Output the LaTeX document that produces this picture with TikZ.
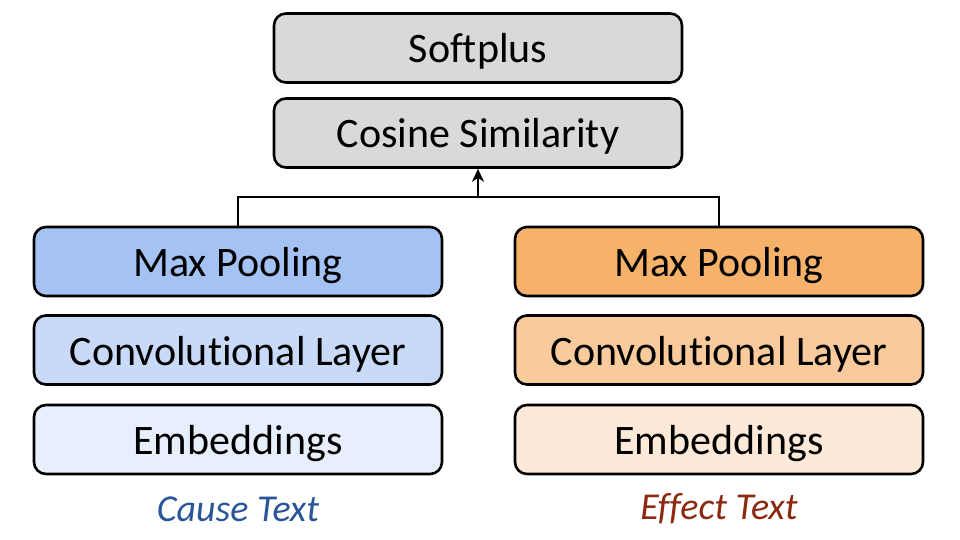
\documentclass[tikz,border=0pt]{standalone}
\usepackage{fontspec}
\setmainfont{Carlito}[Ligatures=NoCommon]
\usetikzlibrary{arrows.meta}
\definecolor{gbox}{HTML}{D9D9D9}
\definecolor{b1}{HTML}{A4C2F4}
\definecolor{b2}{HTML}{C9DAF8}
\definecolor{b3}{HTML}{E8EFFC}
\definecolor{o1}{HTML}{F6B26B}
\definecolor{o2}{HTML}{F9CB9C}
\definecolor{o3}{HTML}{FDE9D7}
\definecolor{causec}{HTML}{2A5699}
\definecolor{effectc}{HTML}{8C2A10}
\tikzset{
  layer/.style={draw=black, line width=2.6pt, rounded corners=12pt,
    minimum width=408pt, minimum height=69pt, inner sep=0pt,
    text height=38pt, text depth=8pt,
    font=\fontsize{42}{48}\selectfont},
  caption/.style={font=\fontsize{38}{44}\selectfont\itshape, inner sep=0pt},
  conn/.style={line width=2.6pt}
}
\begin{document}
\begin{tikzpicture}[x=1pt,y=-1pt]
\useasboundingbox (0,0) rectangle (960,540);
\node[layer, fill=gbox] (soft) at (478,48) {Softplus};
\node[layer, fill=gbox] (cos) at (478,133) {Cosine Similarity};
\node[layer, fill=b1] (lmax) at (238,261.5) {Max Pooling};
\node[layer, fill=b2] (lconv) at (238,350) {Convolutional Layer};
\node[layer, fill=b3] (lemb) at (238,439.5) {Embeddings};
\node[layer, fill=o1] (rmax) at (719,261.5) {Max Pooling};
\node[layer, fill=o2] (rconv) at (719,350) {Convolutional Layer};
\node[layer, fill=o3] (remb) at (719,439.5) {Embeddings};
\node[caption, text=causec] (lcap) at (238,509) {Cause Text};
\node[caption, text=effectc] (rcap) at (719,509) {Effect Text};
\coordinate (jn) at (478,197);
\draw[conn] (lmax.north) -- (lmax.north |- jn) -- (rmax.north |- jn) -- (rmax.north);
\draw[conn, -{Stealth[length=13pt,width=12pt,inset=4pt]}] (jn) -- (cos.south);
\end{tikzpicture}
\end{document}
